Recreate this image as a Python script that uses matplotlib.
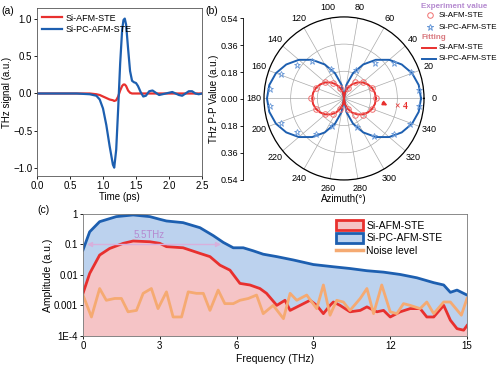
import numpy as np
import matplotlib.pyplot as plt
from matplotlib.lines import Line2D
from matplotlib.patches import Patch

# ---- panel (a): THz waveforms ----
time_ps = [0, 0.2, 0.4, 0.6, 0.8, 0.9, 0.95, 1.0, 1.05, 1.1, 1.15, 1.17, 1.2, 1.23, 1.26, 1.29, 1.31, 1.33,
           1.35, 1.38, 1.41, 1.44, 1.47, 1.5, 1.53, 1.57, 1.61, 1.65, 1.7, 1.75, 1.8, 1.85, 1.9, 1.95, 2.0,
           2.05, 2.1, 2.15, 2.2, 2.25, 2.3, 2.35, 2.4, 2.45, 2.5]
sig_pc = [0, 0, 0, 0, -0.01, -0.03, -0.08, -0.2, -0.42, -0.7, -0.95, -0.99, -0.75, -0.2, 0.4, 0.85, 0.98, 1.0,
          0.92, 0.6, 0.3, 0.17, 0.15, 0.14, 0.1, 0.02, -0.04, -0.03, 0.03, 0.04, 0.01, -0.02, -0.01, 0.0, 0.01,
          0.02, 0.0, -0.02, -0.03, 0.0, 0.03, 0.03, 0.0, -0.01, 0.0]
sig_afm = [0, 0, 0, 0, 0, -0.01, -0.02, -0.04, -0.06, -0.08, -0.09, -0.1, -0.09, -0.04, 0.04, 0.1, 0.12, 0.12,
           0.1, 0.04, 0.01, 0.0, 0.0, 0.0, 0.0, 0.0, 0.0, 0.0, 0.0, 0.0, 0.0, 0.0, 0.0, 0.0, 0.0,
           0.0, 0.0, 0.0, 0.0, 0.0, 0.0, 0.0, 0.0, 0.0, 0.0]

# ---- panel (b): azimuth dependence ----
fit_deg_q = [0, 10, 20, 30, 40, 50, 60, 70, 80, 90]
fit_pc_q = [0.52, 0.512, 0.489, 0.450, 0.398, 0.334, 0.260, 0.178, 0.090, 0.0]
fit_afm_q = [0.215, 0.212, 0.202, 0.186, 0.165, 0.138, 0.108, 0.074, 0.037, 0.0]
exp_pc_deg = [6, 21, 35, 49, 66, 114, 131, 145, 159, 173, 186, 201, 215, 231, 246, 294, 309, 325, 339, 354]
exp_pc_r = [0.507, 0.487, 0.413, 0.314, 0.205, 0.21, 0.33, 0.39, 0.458, 0.50, 0.50, 0.454, 0.39, 0.30, 0.2,
            0.21, 0.32, 0.41, 0.48, 0.51]
exp_afm_deg = [0, 20, 40, 55, 70, 110, 125, 140, 160, 180, 200, 220, 235, 250, 290, 305, 320, 340]
exp_afm_r = [0.215, 0.2, 0.17, 0.13, 0.075, 0.075, 0.125, 0.165, 0.2, 0.22, 0.2, 0.165, 0.125, 0.075,
             0.075, 0.13, 0.17, 0.2]

# ---- panel (c): spectra ----
f_pc = [0, 0.26, 0.65, 1.30, 1.96, 2.61, 3.0, 3.26, 3.91, 4.57, 5.09, 5.48, 5.87, 6.26, 6.65, 7.04, 7.57,
        8.22, 9.0, 9.78, 10.43, 11.09, 11.74, 12.39, 13.04, 13.7, 14.09, 14.35, 14.61, 15.0]
amp_pc = [0.066, 0.26, 0.56, 0.82, 0.93, 0.82, 0.67, 0.59, 0.52, 0.355, 0.195, 0.117, 0.078, 0.078, 0.062,
          0.048, 0.040, 0.031, 0.022, 0.0186, 0.0163, 0.0138, 0.0124, 0.0104, 0.0081, 0.0056, 0.0047,
          0.0027, 0.0032, 0.0022]
f_afm = [0, 0.26, 0.65, 1.04, 1.57, 1.96, 2.61, 3.0, 3.26, 3.91, 4.57, 4.96, 5.35, 5.74, 6.13, 6.52, 6.91,
         7.17, 7.57, 7.89, 8.09, 8.48, 8.87, 9.13, 9.39, 9.65, 9.78, 10.04, 10.43, 10.83, 11.09, 11.48,
         11.74, 12.0, 12.39, 12.78, 13.17, 13.43, 13.7, 14.09, 14.35, 14.61, 14.87, 15.0]
amp_afm = [0.0025, 0.0112, 0.045, 0.074, 0.109, 0.13, 0.123, 0.109, 0.085, 0.078, 0.051, 0.040, 0.021,
           0.0144, 0.0053, 0.0047, 0.0036, 0.0025, 0.00101, 0.00148, 0.00069, 0.00101, 0.00148, 0.00101,
           0.00054, 0.00101, 0.0013, 0.00101, 0.00062, 0.00069, 0.0009, 0.00062, 0.00069, 0.00042,
           0.00062, 0.00079, 0.00079, 0.00042, 0.00042, 0.00101, 0.00033, 0.000174, 0.000155, 0.00022]
f_noise = [0, 0.33, 0.65, 0.91, 1.24, 1.5, 1.76, 2.09, 2.35, 2.67, 2.93, 3.26, 3.52, 3.85, 4.11, 4.43, 4.7,
           4.96, 5.28, 5.54, 5.87, 6.13, 6.46, 6.78, 7.04, 7.43, 7.83, 8.09, 8.35, 8.74, 9.13, 9.39, 9.65,
           9.91, 10.17, 10.43, 10.83, 11.09, 11.35, 11.67, 12.0, 12.26, 12.52, 12.78, 13.17, 13.43, 13.7,
           14.09, 14.35, 14.78, 15.0]
amp_noise = [0.0022, 0.00042, 0.0036, 0.00148, 0.0017, 0.0017, 0.00062, 0.00069, 0.0025, 0.0036, 0.00079,
             0.0028, 0.00042, 0.00042, 0.0028, 0.0025, 0.0025, 0.00069, 0.0032, 0.00115, 0.00115, 0.00148,
             0.0017, 0.0022, 0.00054, 0.00101, 0.00037, 0.0025, 0.00148, 0.0022, 0.00079, 0.0047, 0.00048,
             0.00148, 0.0013, 0.00069, 0.0017, 0.0036, 0.00054, 0.0047, 0.00062, 0.00054, 0.00115, 0.00101,
             0.00079, 0.0013, 0.00054, 0.0013, 0.0013, 0.00048, 0.0017]

red = '#e8302e'
blue = '#1d5fb0'
orange = '#f5aa72'
fs = 7

plt.rcParams['font.family'] = 'Liberation Sans'
fig = plt.figure(figsize=(5, 3.68), dpi=100)

# (a)
ax1 = fig.add_axes([0.074, 0.522, 0.33, 0.456])
ax1.plot(time_ps, sig_afm, color=red, lw=1.6, label='Si-AFM-STE')
ax1.plot(time_ps, sig_pc, color=blue, lw=1.6, label='Si-PC-AFM-STE')
ax1.set_xlim(0, 2.5)
ax1.set_ylim(-1.1, 1.14)
ax1.set_xticks(np.arange(0, 2.51, 0.5))
ax1.set_yticks([-1.0, -0.5, 0.0, 0.5, 1.0])
ax1.tick_params(labelsize=fs, length=2, width=0.6, pad=1.5)
ax1.set_xlabel('Time (ps)', fontsize=fs, labelpad=1)
ax1.set_ylabel('THz signal (a.u.)', fontsize=fs, labelpad=1)
for s in ax1.spines.values():
    s.set_color('#555555')
    s.set_linewidth(0.6)
ax1.legend(loc='upper left', fontsize=fs - 0.5, frameon=False, handlelength=2.2, borderaxespad=0.2,
           labelspacing=0.3, handletextpad=0.4)
fig.text(0.002, 0.985, '(a)', fontsize=7.5, va='top')

# (b) radial scale axis on the left
axr = fig.add_axes([0.486, 0.511, 0.001, 0.44])
axr.set_ylim(-0.54, 0.54)
axr.set_xticks([])
rt = [-0.54, -0.36, -0.18, 0.0, 0.18, 0.36, 0.54]
axr.set_yticks(rt)
axr.set_yticklabels(['%.2f' % abs(v) for v in rt])
axr.tick_params(labelsize=fs - 0.5, length=2, width=0.6, pad=1.5)
for k in ['top', 'right', 'bottom']:
    axr.spines[k].set_visible(False)
axr.spines['left'].set_linewidth(0.6)
axr.set_ylabel('THz P-P Value (a.u.)', fontsize=fs, labelpad=1)
fig.text(0.41, 0.985, '(b)', fontsize=7.5, va='top')

# (b) polar
axp = fig.add_axes([0.528, 0.511, 0.32, 0.443], projection='polar')
fit_deg = fit_deg_q + [180 - d for d in fit_deg_q[::-1][1:]] + [180 + d for d in fit_deg_q[1:]] + \
    [360 - d for d in fit_deg_q[::-1][1:]]
fit_pc = fit_pc_q + fit_pc_q[::-1][1:] + fit_pc_q[1:] + fit_pc_q[::-1][1:]
fit_afm = fit_afm_q + fit_afm_q[::-1][1:] + fit_afm_q[1:] + fit_afm_q[::-1][1:]
axp.plot(np.deg2rad(fit_deg), fit_pc, color=blue, lw=1.4)
axp.plot(np.deg2rad(fit_deg), fit_afm, color=red, lw=1.4)
axp.plot(np.deg2rad(exp_pc_deg), exp_pc_r, ls='none', marker='*', ms=5, mfc='none', mec='#6b9ad8', mew=0.6)
axp.plot(np.deg2rad(exp_afm_deg), exp_afm_r, ls='none', marker='o', ms=4, mfc='none', mec='#f07070', mew=0.7)
axp.set_ylim(0, 0.54)
axp.set_yticks([0.18, 0.36])
axp.set_yticklabels([])
axp.set_xticks(np.deg2rad(np.arange(0, 360, 20)))
axp.set_xticklabels([str(d) for d in range(0, 360, 20)], fontsize=fs - 0.5)
axp.tick_params(axis='x', pad=-3)
axp.grid(color='#aaaaaa', lw=0.5)
axp.spines['polar'].set_linewidth(0.9)
axp.set_aspect('auto')
axp.annotate('', xy=(np.deg2rad(-10), 0.315), xytext=(np.deg2rad(-5), 0.245),
             arrowprops=dict(arrowstyle='-|>', color=red, lw=1.2, mutation_scale=6))
axp.text(np.deg2rad(-8), 0.39, '× 4', color=red, fontsize=7, fontweight='bold', family='Liberation Serif',
         ha='center', va='center')
fig.text(0.688, 0.472, 'Azimuth(°)', fontsize=fs, ha='center', va='top')

# polar legend
lf = 5.8
tx = 0.878
fig.text(0.842, 0.981, 'Experiment value', fontsize=lf, color='#b58ad0', fontweight='bold', va='center')
fig.add_artist(Line2D([0.86], [0.959], marker='o', ms=4, mfc='none', mec='#f07070', mew=0.7))
fig.text(tx, 0.959, 'Si-AFM-STE', fontsize=lf, va='center')
fig.add_artist(Line2D([0.86], [0.926], marker='*', ms=5, mfc='none', mec='#6b9ad8', mew=0.7))
fig.text(tx, 0.926, 'Si-PC-AFM-STE', fontsize=lf, va='center')
fig.text(0.842, 0.897, 'Fitting', fontsize=lf, color='#d97a80', fontweight='bold', va='center')
fig.add_artist(Line2D([0.844, 0.872], [0.870, 0.870], color=red, lw=1.4))
fig.text(tx, 0.870, 'Si-AFM-STE', fontsize=lf, va='center')
fig.add_artist(Line2D([0.844, 0.872], [0.840, 0.840], color=blue, lw=1.4))
fig.text(tx, 0.840, 'Si-PC-AFM-STE', fontsize=lf, va='center')

# (c)
ax3 = fig.add_axes([0.166, 0.087, 0.768, 0.3315])
ax3.fill_between(f_pc, amp_pc, 1e-4, color='#bcd2ee', lw=0)
ax3.fill_between(f_afm, amp_afm, 1e-4, color='#f5c4c6', lw=0)
ax3.plot(f_pc, amp_pc, color=blue, lw=2.0)
ax3.plot(f_afm, amp_afm, color=red, lw=2.0)
ax3.plot(f_noise, amp_noise, color=orange, lw=2.0)
ax3.set_yscale('log')
ax3.set_xlim(0, 15)
ax3.set_ylim(1e-4, 1)
ax3.set_xticks([0, 3, 6, 9, 12, 15])
ax3.set_yticks([1e-4, 1e-3, 1e-2, 1e-1, 1])
ax3.set_yticklabels(['1E-4', '0.001', '0.01', '0.1', '1'])
ax3.minorticks_off()
ax3.tick_params(labelsize=fs, length=2, width=0.6, pad=1.5)
ax3.set_xlabel('Frequency (THz)', fontsize=fs + 0.5, labelpad=2)
ax3.set_ylabel('Amplitude (a.u.)', fontsize=fs + 0.5, labelpad=1)
for s in ax3.spines.values():
    s.set_color('#777777')
    s.set_linewidth(0.6)
ax3.annotate('', xy=(0.05, 0.1), xytext=(5.5, 0.1),
             arrowprops=dict(arrowstyle='<|-|>', color='#d8b0dc', lw=1.0, mutation_scale=7))
ax3.text(2.6, 0.2, '5.5THz', fontsize=fs, color='#b58ad0', ha='center', va='center')
handles = [Patch(facecolor='#f5c4c6', edgecolor=red, lw=2),
           Patch(facecolor='#bcd2ee', edgecolor=blue, lw=2),
           Line2D([0], [0], color=orange, lw=2.5)]
ax3.legend(handles, ['Si-AFM-STE', 'Si-PC-AFM-STE', 'Noise level'], loc='upper left',
           bbox_to_anchor=(0.645, 0.99), fontsize=fs + 0.5, frameon=False, handlelength=2.6,
           handleheight=1.0, labelspacing=0.25, handletextpad=0.3, borderaxespad=0.1)
fig.text(0.075, 0.43, '(c)', fontsize=7.5, va='center')

fig.savefig('out.png', dpi=100)
